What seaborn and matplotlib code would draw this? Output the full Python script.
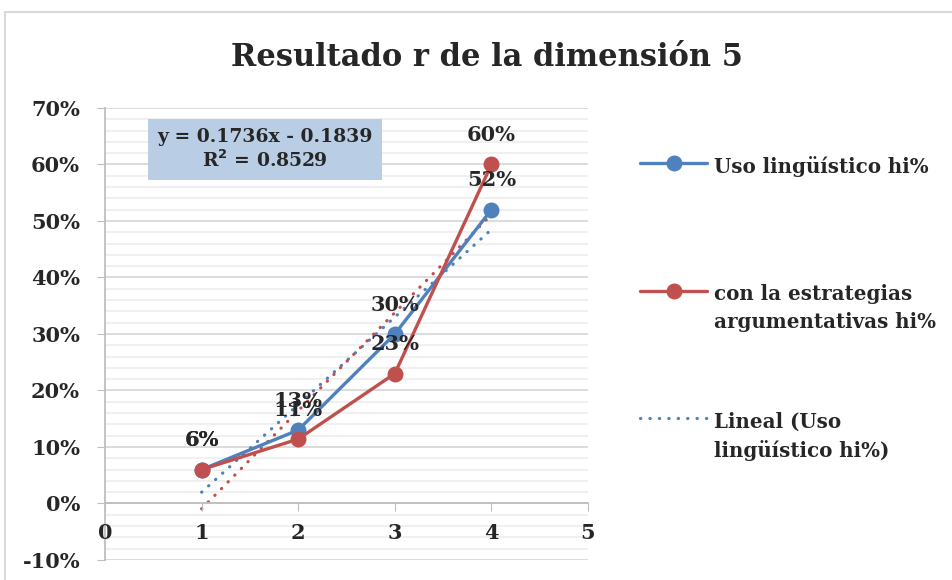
import numpy as np
import pandas as pd
import seaborn as sns
import matplotlib.pyplot as plt
from matplotlib.lines import Line2D
from matplotlib.patches import Rectangle
from matplotlib.ticker import MultipleLocator, PercentFormatter

# values
x_vals = [1, 2, 3, 4]
uso = [0.06, 0.13, 0.30, 0.52]
estrategias = [0.06, 0.114, 0.23, 0.60]
label_uso = 'Uso lingüístico hi%\n'
label_est = 'con la estrategias\nargumentativas hi%'
label_trend = 'Lineal (Uso\nlingüístico hi%)'
title = 'Resultado r de la dimensión 5'
equation = 'y = 0.1736x - 0.1839\nR$^2$ = 0.8529'

BLUE = '#4f81bd'
RED = '#c0504d'
FONT = 'DejaVu Serif'
DOTS = (0, (0.1, 2.85))

sns.set_style('white')
plt.rcParams['font.family'] = [FONT]
plt.rcParams['font.weight'] = 'bold'
plt.rcParams['axes.unicode_minus'] = False
plt.rcParams['mathtext.default'] = 'bf'

df = pd.DataFrame({'x': x_vals, 'uso': uso, 'est': estrategias})

fig = plt.figure(figsize=(9.52, 5.8), dpi=100)
fig.patches.append(Rectangle((0.005, -0.01), 1.0, 0.99, transform=fig.transFigure,
                             fill=False, edgecolor='#d9d9d9', lw=1.5))
ax = fig.add_axes([0.1103, 0.0345, 0.5074, 0.7793])

# trendlines (linear fit)
sns.regplot(data=df, x='x', y='uso', ax=ax, ci=None, scatter=False, truncate=True,
            line_kws=dict(color=BLUE, ls=DOTS, lw=2.3, dash_capstyle='round'))
sns.regplot(data=df, x='x', y='est', ax=ax, ci=None, scatter=False, truncate=True,
            line_kws=dict(color=RED, ls=DOTS, lw=2.3, dash_capstyle='round'))

# series
sns.lineplot(data=df, x='x', y='uso', ax=ax, color=BLUE, lw=2.4, marker='o',
             markersize=11.5, markeredgewidth=0)
sns.lineplot(data=df, x='x', y='est', ax=ax, color=RED, lw=2.4, marker='o',
             markersize=11.5, markeredgewidth=0)

for xv, v in zip(x_vals, uso):
    ax.annotate(f'{v:.0%}', (xv, v), xytext=(0, 14), textcoords='offset points',
                ha='center', va='bottom', fontsize=15, fontweight='bold')
for xv, v in zip(x_vals, estrategias):
    ax.annotate(f'{v:.0%}', (xv, v), xytext=(0, 14), textcoords='offset points',
                ha='center', va='bottom', fontsize=15, fontweight='bold')

ax.set_xlim(0, 5)
ax.set_ylim(-0.10, 0.70)
ax.xaxis.set_major_locator(MultipleLocator(1))
ax.yaxis.set_major_locator(MultipleLocator(0.1))
ax.yaxis.set_minor_locator(MultipleLocator(0.02))
ax.yaxis.set_major_formatter(PercentFormatter(1.0, decimals=0))
ax.grid(axis='y', which='major', color='#d9d9d9', lw=1.3)
ax.grid(axis='y', which='minor', color='#eeeeee', lw=1.2)
ax.grid(axis='x', visible=False)
ax.set_axisbelow(True)
ax.set_xlabel('')
ax.set_ylabel('')

for s in ['top', 'right']:
    ax.spines[s].set_visible(False)
ax.spines['left'].set_color('#bfbfbf')
ax.spines['left'].set_linewidth(1.3)
ax.spines['bottom'].set_position(('data', 0))
ax.spines['bottom'].set_color('#bfbfbf')
ax.spines['bottom'].set_linewidth(1.3)
ax.tick_params(axis='y', which='major', left=True, length=6, color='#bfbfbf',
               labelsize=15, pad=12)
ax.tick_params(axis='y', which='minor', left=False)
ax.tick_params(axis='x', bottom=True, length=6, color='#bfbfbf', direction='out',
               labelsize=15, pad=8)
for t in ax.get_xticklabels() + ax.get_yticklabels():
    t.set_fontweight('bold')
ax.get_xticklabels()[0].set_bbox(dict(facecolor='white', edgecolor='none', pad=0.5))
ax.xaxis.set_zorder(3)

ax.text(1.66, 0.6265, equation, ha='center', va='center', fontsize=13.5, fontweight='bold',
        linespacing=1.15,
        bbox=dict(boxstyle='square,pad=0.5', facecolor='#b9cde5', edgecolor='none'))

fig.text(0.5116, 0.9, title, ha='center', va='center', fontsize=22, fontweight='bold')

handles = [Line2D([], [], color=BLUE, lw=2.4, marker='o', markersize=11.5, markeredgewidth=0),
           Line2D([], [], color=RED, lw=2.4, marker='o', markersize=11.5, markeredgewidth=0),
           Line2D([], [], color=BLUE, lw=2.3, ls=DOTS, dash_capstyle='round')]
leg = fig.legend(handles, [label_uso, label_est, label_trend], loc='upper left',
                 bbox_to_anchor=(0.672, 0.731), frameon=False,
                 handlelength=3.4, handletextpad=0.35, labelspacing=4.0,
                 borderpad=0, borderaxespad=0,
                 prop=dict(family=FONT, weight='bold', size=14.3))
for t in leg.get_texts():
    t.set_linespacing(1.49)
for col in leg._legend_handle_box.get_children():
    for row in col.get_children():
        row.align = 'top'

fig.savefig('out.png', dpi=100)
